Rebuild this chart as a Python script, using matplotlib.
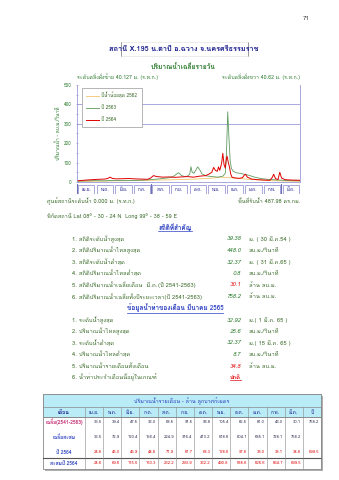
import matplotlib
matplotlib.use("Agg")
import matplotlib.pyplot as plt
from matplotlib import font_manager
from matplotlib.ft2font import FT2Font
from matplotlib.patches import Rectangle
from matplotlib.lines import Line2D

W, H = 339, 480

# ---- data ----
months = ["เม.ย.", "พ.ค.", "มิ.ย.", "ก.ค.", "ส.ค.", "ก.ย.",
          "ต.ค.", "พ.ย.", "ธ.ค.", "ม.ค.", "ก.พ.", "มี.ค."]

# daily flow (m3/s), day 0 = 1 April
days_2562 = [0, 30, 60, 90, 120, 150, 180, 200, 220, 235, 250, 265, 280, 300, 320, 340, 364]
flow_2562 = [3, 4, 6, 7, 9, 11, 14, 16, 20, 25, 22, 18, 14, 10, 7, 5, 4]

days_2563 = [0, 15, 30, 45, 60, 75, 90, 105, 120, 130, 140, 150, 158, 163, 166, 170, 175,
             180, 184, 186, 188, 191, 194, 197, 200, 204, 210, 220, 230, 238, 242, 244,
             246, 248, 250, 252, 255, 260, 270, 280, 290, 300, 310, 320, 330, 340, 350, 364]
flow_2563 = [5, 6, 7, 6, 8, 7, 8, 9, 12, 15, 18, 22, 30, 42, 48, 35, 28,
             30, 40, 79, 50, 45, 62, 78, 65, 42, 32, 28, 25, 30, 45, 150,
             362, 230, 110, 70, 55, 48, 42, 35, 25, 18, 14, 12, 10, 8, 7, 6]

days_2564 = [0, 8, 15, 25, 35, 45, 50, 54, 58, 65, 75, 85, 95, 105, 115, 120, 125, 130,
             140, 150, 160, 170, 180, 190, 200, 210, 215, 220, 223, 226, 229, 231, 233,
             236, 238, 240, 242, 244, 245, 247, 249, 251, 253, 256, 260, 265, 270, 273,
             275, 278, 285, 295, 305, 315, 319, 321, 324, 328, 331, 334, 340, 350, 364]
flow_2564 = [6, 8, 10, 12, 14, 15, 18, 25, 18, 16, 17, 18, 16, 15, 14, 20, 33, 28,
             25, 26, 24, 26, 28, 25, 30, 33, 40, 50, 75, 60, 55, 78, 60,
             95, 148, 90, 72, 123, 133, 100, 75, 40, 25, 22, 20, 19, 22, 35,
             40, 25, 15, 12, 10, 9, 25, 40, 18, 12, 50, 20, 12, 10, 9]

legend_labels = ["ปีน้ำน้อยสุด 2562", "ปี 2563", "ปี 2564"]

# monthly volume table (million m3)
row_labels = ["เฉลี่ย(2541-2563)", "เฉลี่ยสะสม", "ปี 2564", "สะสมปี 2564"]
avg_month = [33.5, 39.4, 47.5, 36.0, 68.5, 91.5, 96.8, 105.4, 85.5, 81.0, 43.0, 30.1]
avg_year = 758.2
avg_cum = [33.5, 72.9, 120.4, 156.4, 224.9, 316.4, 413.2, 518.6, 604.1, 685.1, 728.1, 758.2]
y2564_month = [24.6, 45.0, 45.9, 44.8, 71.9, 61.7, 68.3, 128.6, 97.8, 38.0, 38.1, 34.8]
y2564_year = 699.5
y2564_cum = [24.6, 69.6, 115.5, 160.3, 232.2, 293.9, 362.2, 490.8, 588.6, 626.6, 664.7, 699.5]

stats_all = [
    ("1. สถิติระดับน้ำสูงสุด", "", "39.38", "ม. ( 30 มี.ค.54 )"),
    ("2. สถิติปริมาณน้ำไหลสูงสุด", "", "448.0", "ลบ.ม./วินาที"),
    ("3. สถิติระดับน้ำต่ำสุด", "", "32.37", "ม. ( 31 มี.ค.65 )"),
    ("4. สถิติปริมาณน้ำไหลต่ำสุด", "", "0.8", "ลบ.ม./วินาที"),
    ("5. สถิติปริมาณน้ำเฉลี่ยเดือน  มี.ค.", "(ปี 2541-2563)", "30.1", "ล้าน ลบ.ม."),
    ("6. สถิติปริมาณน้ำเฉลี่ยทั้งปีระยะเวลา(ปี 2541-2563)", "", "758.2", "ล้าน ลบ.ม."),
]
stats_month = [
    ("1. ระดับน้ำสูงสุด", "32.92", "ม.( 1 มี.ค. 65 )"),
    ("2. ปริมาณน้ำไหลสูงสุด", "25.6", "ลบ.ม./วินาที"),
    ("3. ระดับน้ำต่ำสุด", "32.37", "ม.( 15 มี.ค. 65 )"),
    ("4. ปริมาณน้ำไหลต่ำสุด", "8.7", "ลบ.ม./วินาที"),
    ("5. ปริมาณน้ำรายเดือนทั้งเดือน", "34.8", "ล้าน ลบ.ม."),
    ("6. น้ำท่าประจำเดือนนี้อยู่ในเกณฑ์", "ปกติ", ""),
]


def find_thai_font():
    for entry in font_manager.fontManager.ttflist:
        try:
            if 0x0E01 in FT2Font(entry.fname).get_charmap():
                return entry.name
        except Exception:
            continue
    return None


thai = find_thai_font()
plt.rcParams["font.family"] = [thai, "DejaVu Sans"] if thai else ["DejaVu Sans"]

NAVY = "#1b1f8f"
BLUE = "#2a3fc0"
GREEN = "#2f7d32"
DKGREEN = "#3b6b2a"
RED = "#e01010"
LAV = "#9a9ad8"

fig = plt.figure(figsize=(W / 100, H / 100), dpi=100)
fig.patch.set_facecolor("white")

page = fig.add_axes([0, 0, 1, 1])
page.set_xlim(0, W)
page.set_ylim(H, 0)
page.axis("off")


def txt(x, y, s, size=4.2, color=DKGREEN, ha="left", **kw):
    return page.text(x, y, s, fontsize=size, color=color, ha=ha, va="center", **kw)


txt(306, 19, "71", size=4.4, color="#333333", ha="center")

# title box
page.add_line(Line2D([121, 121], [42, 56], color="#888888", lw=0.6))
page.add_line(Line2D([248, 248], [42, 56], color="#888888", lw=0.6))
page.add_line(Line2D([121, 248], [42, 42], color="#dddddd", lw=0.4))
page.add_line(Line2D([121, 248], [56, 56], color="#dddddd", lw=0.4))
txt(184, 49, "สถานี X.195 น.ตาปี อ.ฉวาง จ.นครศรีธรรมราช", size=5.3, color=NAVY,
    ha="center", fontweight="bold")

txt(183, 67, "ปริมาณน้ำเฉลี่ยรายวัน", size=4.8, color=GREEN, ha="center", fontweight="bold")
txt(77, 77, "ระดับตลิ่งฝั่งซ้าย 40.127 ม. (ร.ท.ก.)", size=3.8, color=GREEN)
txt(300, 77, "ระดับตลิ่งฝั่งขวา 40.62 ม. (ร.ท.ก.)", size=3.8, color=GREEN, ha="right")
txt(58, 133, "ปริมาณน้ำ - ลบ.ม./วินาที", size=3.6, color=GREEN, ha="center", rotation=90)

# ---- hydrograph ----
ax = fig.add_axes([77 / W, 1 - 182 / H, (300 - 77) / W, (182 - 85) / H])
ax.plot(days_2562, flow_2562, color="#f2c46a", lw=0.6, label=legend_labels[0])
ax.plot(days_2563, flow_2563, color="#5f9a5f", lw=0.6, label=legend_labels[1])
ax.plot(days_2564, flow_2564, color="#e00000", lw=0.7, label=legend_labels[2])
ax.set_xlim(0, 364)
ax.set_ylim(0, 500)
for gy in (300, 400):
    ax.axhline(gy, color=LAV, lw=0.6, zorder=0)
ax.set_facecolor("none")
ax.spines["top"].set_visible(False)
for s in ("left", "right", "bottom"):
    ax.spines[s].set_color(LAV)
    ax.spines[s].set_linewidth(0.6)
ax.set_xticks([])
ax.set_yticks(range(0, 501, 100))
ax.set_yticks(range(50, 500, 100), minor=True)
ax.tick_params(axis="y", which="both", colors=LAV, labelcolor=GREEN, labelsize=3.3,
               length=2, width=0.5, direction="inout", pad=3)
ax.tick_params(axis="y", which="minor", length=1.2)
leg = ax.legend(loc="upper left", bbox_to_anchor=(0.012, 0.995), fontsize=3.4,
                frameon=True, fancybox=False, edgecolor="#999999", framealpha=1,
                handlelength=2.6, handletextpad=0.6, labelspacing=1.5,
                borderpad=0.9, labelcolor=DKGREEN)
leg.get_frame().set_linewidth(0.5)

# month strip under the chart
mx = fig.add_axes([77 / W, 1 - 194 / H, (300 - 77) / W, 10 / H])
mx.set_xlim(0, 12)
mx.set_ylim(0, 1)
mx.axis("off")
for i, m in enumerate(months):
    mx.add_patch(Rectangle((i + 0.06, 0.05), 0.88, 0.9, fill=False, ec=LAV, lw=0.6))
    mx.text(i + 0.5, 0.48, m, fontsize=3.3, color=NAVY, ha="center", va="center")
for i in (0, 4, 11, 12):
    mx.add_line(Line2D([i, i], [0, 1], color="#7070b8", lw=0.8))

# ---- station notes ----
txt(47, 201, "ศูนย์สถานีระดับน้ำ 0.000 ม. (ร.ท.ก.)", size=4.0)
txt(300, 201, "พื้นที่รับน้ำ 487.98 ตร.กม.", size=4.0, ha="right")
txt(47, 216, "พิกัดสถานี Lat 08° - 30 - 24 N  Long 99° - 38 - 59 E", size=4.0)

under = []
under.append(txt(175, 227, "สถิติที่สำคัญ", size=4.6, color=BLUE, ha="center", fontweight="bold"))

y0 = 239
for i, (label, mid, val, unit) in enumerate(stats_all):
    y = y0 + i * 11.5
    txt(72, y, label, size=4.2)
    if mid:
        txt(158, y, mid, size=4.2)
    txt(241, y, val, size=4.2, color=RED if i == 4 else GREEN, ha="right", fontstyle="italic")
    txt(249, y, unit, size=4.2)

under.append(txt(175, 308, "ข้อมูลน้ำท่าของเดือน มีนาคม 2565", size=4.6, color=BLUE,
                 ha="center", fontweight="bold"))

y0 = 320
for i, (label, val, unit) in enumerate(stats_month):
    y = y0 + i * 11.5
    txt(72, y, label, size=4.2)
    if i == 5:
        under.append(txt(241, y, val, size=4.2, color=RED, ha="right", fontweight="bold"))
    else:
        txt(241, y, val, size=4.2, color=RED if i == 4 else GREEN, ha="right", fontstyle="italic")
    if unit:
        txt(249, y, unit, size=4.2)

# ---- monthly table ----
tx0, tx1 = 43, 321
c0 = 85
cw = (tx1 - c0) / 13
band_top, head_top, body_top, last_top, bottom = 394, 407, 417, 458, 469
CYAN = "#b9ecf6"
page.add_patch(Rectangle((tx0 + 2, band_top + 2), tx1 - tx0, bottom - band_top,
                         color="#b0b0b0", lw=0))
page.add_patch(Rectangle((tx0, band_top), tx1 - tx0, bottom - band_top,
                         fc="white", ec="#888888", lw=0.6))
page.add_patch(Rectangle((tx0, band_top), tx1 - tx0, body_top - band_top,
                         fc=CYAN, ec="#888888", lw=0.6))
page.add_line(Line2D([tx0, tx1], [head_top, head_top], color="#888888", lw=0.5))
page.add_line(Line2D([tx0, tx1], [body_top, body_top], color="#888888", lw=0.5))
page.add_line(Line2D([tx0, tx1], [last_top, last_top], color="#555555", lw=0.8))
for k in range(14):
    xv = c0 + k * cw
    page.add_line(Line2D([xv, xv], [head_top, bottom], color="#888888", lw=0.4))

txt((tx0 + tx1) / 2, 401, "ปริมาณน้ำรายเดือน - ล้าน ลูกบาศก์เมตร", size=3.9, color=BLUE,
    ha="center")
txt((tx0 + c0) / 2, 412, "เดือน", size=3.8, color=NAVY, ha="center", fontweight="bold")
for k, m in enumerate(months + ["ปี"]):
    txt(c0 + (k + 0.5) * cw, 412, m, size=3.5, color=NAVY, ha="center")

rows = [
    (row_labels[0], avg_month + [avg_year], 422, "#c0206a", "#333355"),
    (row_labels[1], avg_cum + [None], 437.5, BLUE, "#333355"),
    (row_labels[2], y2564_month + [y2564_year], 452, BLUE, RED),
    (row_labels[3], y2564_cum + [None], 463.5, BLUE, RED),
]
for label, vals, y, lc, vc in rows:
    txt((tx0 + c0) / 2, y, label, size=3.6, color=lc, ha="center", fontweight="bold")
    for k, v in enumerate(vals):
        if v is None:
            continue
        txt(c0 + (k + 1) * cw - 1.5, y, f"{v:.1f}", size=3.0, color=vc, ha="right")

# underline the headings and the verdict
fig.canvas.draw()
renderer = fig.canvas.get_renderer()
inv = page.transData.inverted()
for t in under:
    bb = t.get_window_extent(renderer)
    (xa, ya), (xb, yb) = inv.transform([(bb.x0, bb.y0), (bb.x1, bb.y1)])
    yl = max(ya, yb) + 0.3
    page.add_line(Line2D([xa, xb], [yl, yl], color=t.get_color(), lw=0.5))

fig.savefig("out.png", dpi=100, facecolor="white")
